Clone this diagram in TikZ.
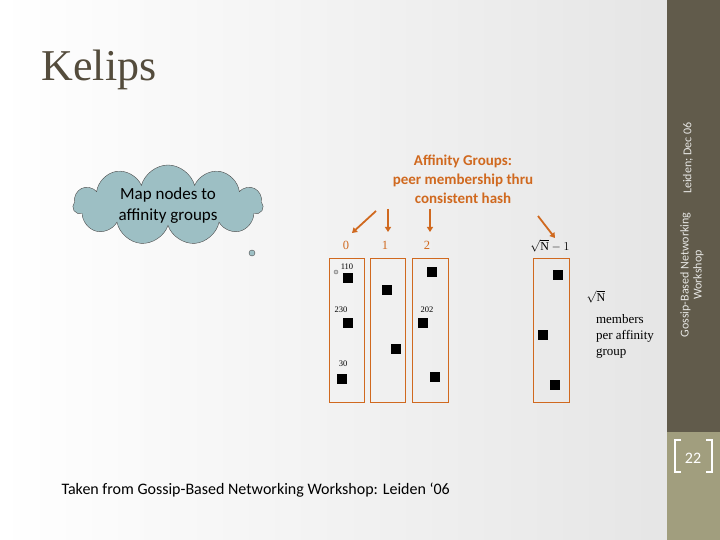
\documentclass[tikz,border=0pt]{standalone}
\usepackage{fontspec}
\setmainfont{Liberation Serif}
\newfontfamily\carl{Carlito}
\usetikzlibrary{shapes.symbols,arrows.meta}
\definecolor{org}{HTML}{D0691F}
\definecolor{bar}{HTML}{615B4B}
\definecolor{bar2}{HTML}{A19E7E}
\definecolor{cl}{HTML}{9DBFC4}
\definecolor{ttl}{HTML}{544C3C}
\begin{document}
\begin{tikzpicture}[x=1pt,y=-1pt,
 grp/.style={draw=org,line width=1pt},
 sq/.style={fill=black,minimum size=10pt,inner sep=0},
 num/.style={font=\fontsize{8.5}{9}\selectfont},
 idx/.style={text=org,font=\fontsize{12.5}{14}\selectfont},
 arr/.style={draw=org,line width=1.8pt,-{Triangle[width=6pt,length=5pt]}}]
\useasboundingbox (0,0) rectangle (720,540);
\shade[left color=white,right color=black!10] (0,0) rectangle (667,540);
\fill[bar] (667,0) rectangle (720,432);
\fill[bar2] (667,432) rectangle (720,540);
\node[rotate=90,text=white!85!bar,align=center,font=\carl\fontsize{12}{13}\selectfont] (side) at (692,275) {Gossip-Based Networking\\Workshop};
\node[rotate=90,text=white!85!bar,font=\carl\fontsize{12}{13}\selectfont] (side2) at (688,158) {Leiden; Dec 06};
\draw[white,line width=2pt] (681,440) -- (675,440) -- (675,472) -- (681,472);
\draw[white,line width=2pt] (706,440) -- (712,440) -- (712,472) -- (706,472);
\node[text=white,font=\carl\fontsize{16}{17}\selectfont] (pg) at (693,458) {22};
\node[text=ttl,font=\fontsize{44}{48}\selectfont,anchor=west] (title) at (38,70) {Kelips};
\node[cloud,cloud puffs=11,aspect=2.6,fill=cl,draw=black!70,minimum width=190pt,minimum height=80pt] (cloud) at (168,205) {};
\node[align=center,font=\carl\fontsize{17}{21}\selectfont] (ct) at (168,206) {Map nodes to\\affinity groups};
\draw[black!70,fill=cl] (252,253) circle (3pt);
\node[align=center,text=org,font=\carl\bfseries\fontsize{15}{19}\selectfont] (aff) at (463,179) {Affinity Groups:\\peer membership thru\\consistent hash};
\draw[grp] (329,258) rectangle (364,402);
\draw[grp] (370,258) rectangle (405,402);
\draw[grp] (412,258) rectangle (448,402);
\draw[grp] (533,258) rectangle (569,402);
\node[idx] (g0) at (346,245) {0};
\node[idx] (g1) at (385,245) {1};
\node[idx] (g2) at (427,245) {2};
\node[font=\fontsize{12}{14}\selectfont] (gn) at (550,246) {$\sqrt{\mathrm{N}}-1$};
\coordinate (a0) at (376,211); \coordinate (a1) at (388,209);
\coordinate (a2) at (430,209); \coordinate (a3) at (538,216);
\coordinate (b0) at (352,233); \coordinate (b1) at (388,232);
\coordinate (b2) at (430,232); \coordinate (b3) at (555,238);
\draw[arr] (a0) -- (b0);
\draw[arr] (a1) -- (b1);
\draw[arr] (a2) -- (b2);
\draw[arr] (a3) -- (b3);
\node[sq] (s1) at (348,278) {}; \node[sq] (s2) at (348,323) {}; \node[sq] (s3) at (342,379) {};
\node[sq] (s4) at (387,290) {}; \node[sq] (s5) at (396,349) {};
\node[sq] (s6) at (432,272) {}; \node[sq] (s7) at (423,323) {}; \node[sq] (s8) at (435,377) {};
\node[sq] (s9) at (558,275) {}; \node[sq] (s10) at (543,335) {}; \node[sq] (s11) at (555,385) {};
\draw[black!60,fill=black!20] (336,272) circle (2pt);
\node[num] (n1) at (347,267) {110};
\node[num] (n2) at (341,310) {230};
\node[num] (n3) at (343,364) {30};
\node[num] (n4) at (427,310) {202};
\node[font=\fontsize{12}{14}\selectfont] (sn) at (596,297) {$\sqrt{\mathrm{N}}$};
\node[align=left,font=\fontsize{13}{16}\selectfont] (mem) at (625,336) {members\\per affinity\\group};
\node[font=\carl\fontsize{16}{18}\selectfont,anchor=west] (foot) at (58,490) {Taken from Gossip-Based Networking Workshop: Leiden ‘06};
\end{tikzpicture}
\end{document}
